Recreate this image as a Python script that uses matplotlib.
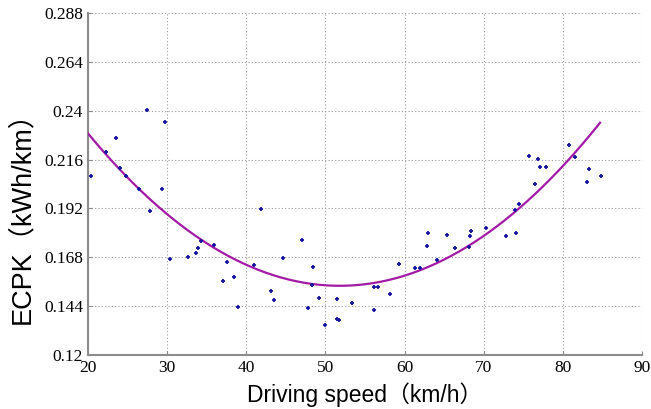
import matplotlib
matplotlib.use("Agg")
import matplotlib.pyplot as plt
import numpy as np

# measured points: driving speed (km/h) and ECPK (kWh/km)
speed = [20.4, 22.3, 23.6, 24.0, 24.8, 26.4, 27.4, 27.8, 29.4, 29.7,
         30.3, 32.6, 33.6, 33.9, 34.3, 35.9, 37.1, 37.5, 38.4, 39.0,
         41.0, 41.9, 43.1, 43.5, 44.7, 47.1, 47.8, 48.3, 48.4, 49.2,
         50.0, 51.4, 51.5, 51.7, 53.4, 56.1, 56.2, 56.7, 58.2, 59.3,
         61.3, 62.0, 62.8, 62.9, 64.1, 65.3, 66.4, 68.2, 68.3, 68.4,
         70.3, 72.8, 74.0, 74.1, 74.5, 75.7, 76.5, 76.9, 77.1, 77.9,
         80.8, 81.5, 83.1, 83.3, 84.8]
ecpk = [0.2079, 0.2197, 0.2264, 0.2117, 0.2079, 0.2015, 0.2403, 0.1909, 0.2015, 0.2343,
        0.1670, 0.1680, 0.1701, 0.1725, 0.1761, 0.1740, 0.1565, 0.1655, 0.1583, 0.1437,
        0.1640, 0.1915, 0.1513, 0.1469, 0.1675, 0.1765, 0.1431, 0.1542, 0.1632, 0.1480,
        0.1346, 0.1473, 0.1375, 0.1370, 0.1454, 0.1422, 0.1535, 0.1535, 0.1501, 0.1647,
        0.1626, 0.1626, 0.1734, 0.1798, 0.1665, 0.1789, 0.1725, 0.1729, 0.1786, 0.1807,
        0.1822, 0.1783, 0.1912, 0.1798, 0.1940, 0.2179, 0.2040, 0.2161, 0.2123, 0.2123,
        0.2230, 0.2174, 0.2048, 0.2112, 0.2079]

# fitted quadratic: a*(v-h)^2 + k
fit_a = 7.4e-5
fit_h = 51.8
fit_k = 0.1540
fit_range = [20.0, 84.7]

xticks = [20, 30, 40, 50, 60, 70, 80, 90]
yticks = [0.12, 0.144, 0.168, 0.192, 0.216, 0.24, 0.264, 0.288]
ytick_labels = ["0.12", "0.144", "0.168", "0.192", "0.216", "0.24", "0.264", "0.288"]

fig = plt.figure(figsize=(6.51, 4.09), dpi=100)
ax = fig.add_axes([88 / 651, 1 - 355 / 409, 554 / 651, 342 / 409])

v = np.linspace(fit_range[0], fit_range[1], 200)
ax.plot(v, fit_a * (v - fit_h) ** 2 + fit_k, color="#a31aa6", lw=1.6, zorder=3)
ax.plot(speed, ecpk, ls="none", marker="+", ms=3.2, mew=1.3, color="#1616a0", zorder=4)

ax.set_xlim(20, 90)
ax.set_ylim(0.12, 0.288)
ax.set_xticks(xticks)
ax.set_yticks(yticks)
ax.set_yticklabels(ytick_labels)
ax.grid(True, ls=(0, (1, 2)), color="#9a9a9a", lw=0.8)
ax.set_axisbelow(True)

for s in ["top", "right"]:
    ax.spines[s].set_visible(False)
for s in ["left", "bottom"]:
    ax.spines[s].set_color("#8c8c8c")
    ax.spines[s].set_linewidth(1.5)

ax.tick_params(direction="in", length=3, color="#8c8c8c", labelsize=12.5)
for lab in ax.get_xticklabels() + ax.get_yticklabels():
    lab.set_family("Liberation Serif")

lab_font = ["Liberation Sans", "Noto Sans CJK SC"]
ax.set_xlabel("Driving speed（km/h）", family=lab_font, fontsize=16.5)
ax.set_ylabel("ECPK（kWh/km）", family=lab_font, fontsize=19.5)
ax.xaxis.set_label_coords(0.50, -0.08)
ax.yaxis.set_label_coords(-0.095, 0.42)

fig.savefig("out.png", dpi=100)
